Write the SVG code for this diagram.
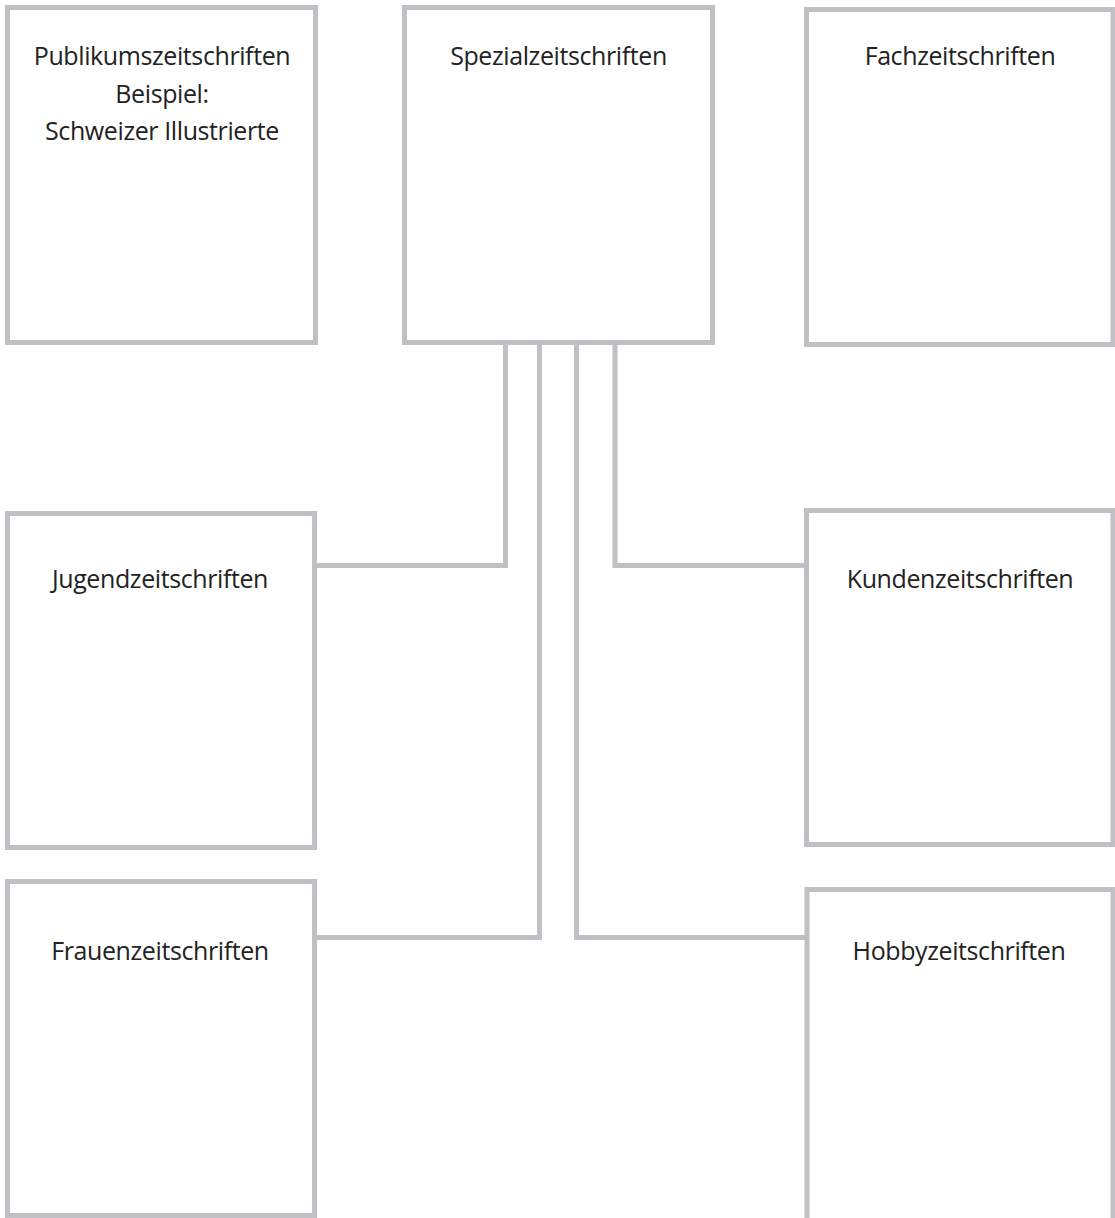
<svg xmlns="http://www.w3.org/2000/svg" width="1115" height="1218" viewBox="0 0 1115 1218">
<style>
.box{fill:#ffffff;stroke:#c0c0c4;stroke-width:5}
.con{fill:none;stroke:#c0c0c4;stroke-width:5;stroke-linejoin:miter}
.lbl{font-family:"Open Sans","Noto Sans","Liberation Sans",sans-serif;font-size:25px;letter-spacing:-0.4px;fill:#222222;text-anchor:middle}
</style>
<rect width="1115" height="1218" fill="#ffffff"/>
<g id="connectors">
<path class="con" d="M505.5 345 V565.5 H316"/>
<path class="con" d="M539.5 345 V937.5 H316"/>
<path class="con" d="M576.5 345 V937.5 H805"/>
<path class="con" d="M615 345 V565.5 H804"/>
</g>
<g id="publikum">
<rect class="box" x="7.5" y="7.5" width="308" height="335"/>
<text class="lbl" x="162" y="65">Publikumszeitschriften</text>
<text class="lbl" x="162" y="102.5">Beispiel:</text>
<text class="lbl" x="162" y="140">Schweizer Illustrierte</text>
</g>
<g id="spezial">
<rect class="box" x="404.5" y="7.5" width="308" height="335"/>
<text class="lbl" x="558.5" y="65">Spezialzeitschriften</text>
</g>
<g id="fach">
<rect class="box" x="806.5" y="9.5" width="306.5" height="335"/>
<text class="lbl" x="960" y="65">Fachzeitschriften</text>
</g>
<g id="jugend">
<rect class="box" x="7.5" y="513.5" width="307" height="334"/>
<text class="lbl" x="160" y="588">Jugendzeitschriften</text>
</g>
<g id="kunden">
<rect class="box" x="806.5" y="510.5" width="306.5" height="334"/>
<text class="lbl" x="960" y="588">Kundenzeitschriften</text>
</g>
<g id="frauen">
<rect class="box" x="7.5" y="881.5" width="307" height="334"/>
<text class="lbl" x="160" y="960">Frauenzeitschriften</text>
</g>
<g id="hobby">
<rect class="box" x="807" y="889.5" width="306" height="340"/>
<text class="lbl" x="959" y="960">Hobbyzeitschriften</text>
</g>
</svg>
